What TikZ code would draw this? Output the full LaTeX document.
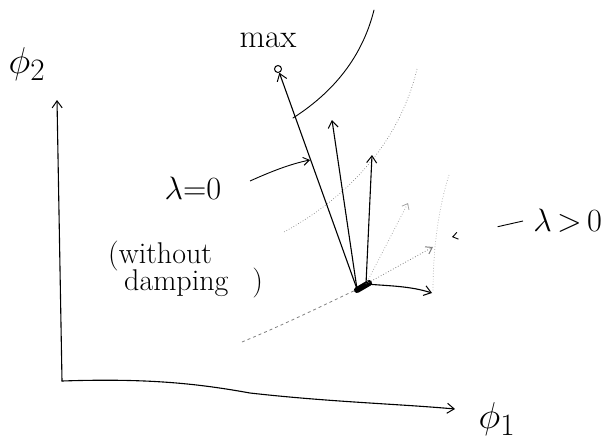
\documentclass[tikz,border=0pt]{standalone}
\usepackage{fontspec}
\usetikzlibrary{arrows.meta}
\begin{document}
\begin{tikzpicture}[x=1pt,y=-1pt,
  hand/.style={line width=1.1pt, line cap=round, line join=round},
  tipa/.style={-{Straight Barb[length=7pt,width=10pt,line width=1pt]}},
  faint/.style={gray, line width=0.7pt, dotted},
  fainter/.style={black!35, line width=0.7pt, dotted},
  lbl/.style={inner sep=0pt, font=\fontsize{30}{34}\selectfont},
  mlbl/.style={inner sep=0pt, font=\fontsize{24.88}{30}\selectfont, scale=1.3}
]
\useasboundingbox (0,0) rectangle (616,445);
% coordinates
\coordinate (O) at (62,381);
\coordinate (Ytip) at (57,100);
\coordinate (Xtip) at (455,409);
\coordinate (B) at (360,288);
\coordinate (B1) at (357,289);
\coordinate (B2) at (366,284);
\coordinate (A2) at (332,120);
\coordinate (A3) at (372,155);
\coordinate (A4) at (408,203);
\coordinate (A5) at (433,247);
\coordinate (A6) at (432,293);
\coordinate (P) at (310,160);
\coordinate (L2) at (452,237);
\node[draw, circle, inner sep=0pt, minimum size=7pt, line width=1pt] (M) at (278,69) {};

% axes
\draw[hand, tipa] (O) -- (Ytip);
\draw[hand, tipa] (O) .. controls (150,378) and (200,384) .. (250,393) .. controls (330,402) and (400,404) .. (Xtip);
\node[inner sep=0pt, font=\fontsize{24.88}{30}\selectfont, scale=1.5] (phi2) at (27,64) {$\phi_{2}$};
\node[inner sep=0pt, font=\fontsize{24.88}{30}\selectfont, scale=1.5] (phi1) at (497,419) {$\phi_{1}$};

% contour curves
\draw[line width=0.9pt, line cap=round] (374,10) .. controls (364,50) and (340,88) .. (293,118);
\draw[faint] (417,69) .. controls (405,120) and (370,185) .. (284,232);
\draw[fainter] (449,175) .. controls (438,210) and (433,250) .. (433,292);
\draw[gray, line width=0.8pt, dashed] (242,342) .. controls (290,322) and (330,302) .. (B);

% base point
\draw[line width=6pt, line cap=round] (357,290) -- (369,283);

% gradient arrows
\draw[hand, tipa] (B1) -- (M);
\draw[hand, tipa] (B1) -- (A2);
\draw[hand, tipa] (B2) -- (A3);
\draw[fainter, line width=0.8pt, -{Straight Barb[length=5pt,width=8pt]}] (B2) -- (A4);
\draw[gray, line width=0.8pt, dotted, -{Straight Barb[length=6pt,width=8pt,line width=1pt]}] (B2) -- (A5);
\draw[hand, tipa] (B2) .. controls (390,286) and (410,286) .. (A6);

% labels
\node[lbl, font=\fontsize{33}{36}\selectfont] (max) at (268,40) {max};
\node[mlbl] (lam0) at (193,188) {$\lambda{=}0$};
\draw[line width=0.9pt, -{Straight Barb[length=6pt,width=8pt]}] (250,181) .. controls (270,172) and (290,164) .. (P);
\node[lbl, anchor=west] (without) at (108,256) {(without};
\node[lbl, anchor=west] (damping) at (124,283) {damping\hspace{0.8em})};
\node[mlbl, anchor=west] (lamg) at (533,221) {$\lambda\,{>}\,0$};
\draw[line width=0.9pt, dash pattern=on 26pt off 200pt, -{Straight Barb[length=5pt,width=7pt]}] ([xshift=-10pt]lamg.west) -- (L2);
\end{tikzpicture}
\end{document}
